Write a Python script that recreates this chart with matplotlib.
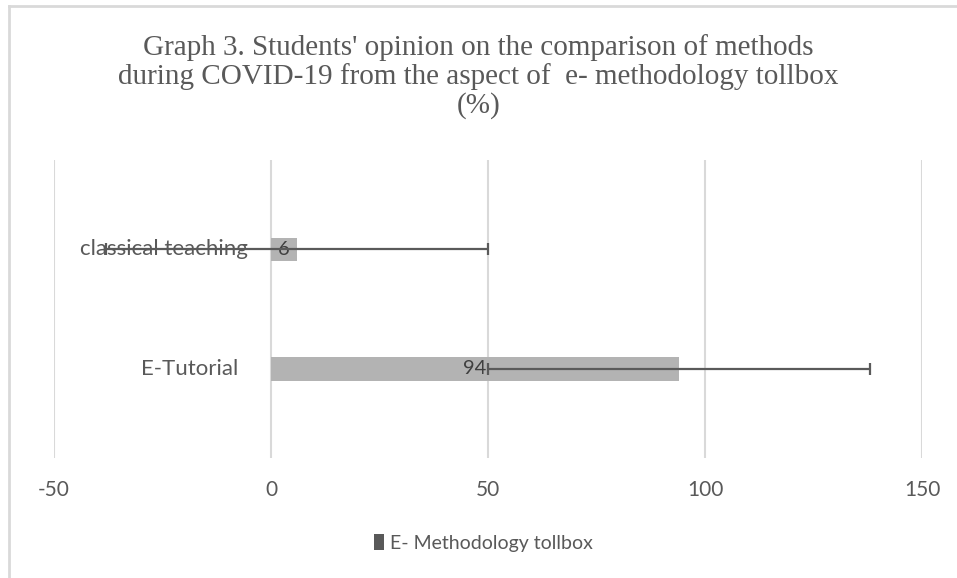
import matplotlib
matplotlib.use("Agg")
import matplotlib.pyplot as plt
from matplotlib.lines import Line2D
from matplotlib.patches import Patch

# data
categories = ["E-Tutorial", "classical teaching"]
values = [94, 6]
errors = [44, 44]
series_name = "E- Methodology tollbox"
xticks = [-50, 0, 50, 100, 150]

TITLE = ("Graph 3. Students' opinion on the comparison of methods\n"
         "during COVID-19 from the aspect of  e- methodology tollbox\n(%)")
INK = "#595959"
BAR = "#b3b3b3"
GRID = "#d9d9d9"
W, H = 957, 578

fig = plt.figure(figsize=(W / 100, H / 100), dpi=100)
ax = fig.add_axes([54 / W, 1 - 458 / H, (922 - 54) / W, (458 - 160) / H])

ypos = list(range(len(categories)))
bars = ax.barh(ypos, values, height=0.2, color=BAR, zorder=2)
ax.errorbar(values, ypos, xerr=errors, fmt="none", ecolor="#5a5a5a",
            elinewidth=1.6, capsize=4.3, capthick=1.6, zorder=5)
ax.bar_label(bars, labels=[str(v) for v in values], label_type="center",
             fontsize=14.5, color="#404040", family="Lato", zorder=4)

ax.set_xlim(-50, 150)
ax.set_ylim(-0.745, 1.749)
ax.set_xticks(xticks)
ax.set_xticklabels([str(t) for t in xticks], family="Lato", fontsize=15, color=INK)
ax.tick_params(axis="x", length=0, pad=16)
ax.set_yticks([])
ax.grid(axis="x", color=GRID, linewidth=1.5, zorder=0)
for s in ax.spines.values():
    s.set_visible(False)

# category labels sit beside the zero line, like the Excel value axis crossing
label_gap = [-33, -23]  # pixels left of the zero line
for y, lab, dx in zip(ypos, categories, label_gap):
    ax.annotate(lab, xy=(0, y), xytext=(dx, 0), textcoords="offset pixels",
                ha="right", va="center", fontsize=16, color=INK, family="Lato", zorder=3)

fig.text(0.5, 1 - 34 / H, TITLE, ha="center", va="top", fontsize=21,
         family="Liberation Serif", color=INK, linespacing=1.1)

fig.legend(handles=[Patch(facecolor="#595959", label=series_name)],
           loc="center", bbox_to_anchor=(0.505, 1 - 543 / H), frameon=False,
           prop={"family": "Lato", "size": 14}, labelcolor=INK,
           handlelength=0.55, handleheight=0.9, handletextpad=0.3)

# chart border (left and top edges visible in the crop)
fig.add_artist(Line2D([9 / W, 9 / W], [0, 1 - 6 / H], transform=fig.transFigure,
                      color=GRID, linewidth=2))
fig.add_artist(Line2D([9 / W, 1], [1 - 6 / H, 1 - 6 / H], transform=fig.transFigure,
                      color=GRID, linewidth=2))

fig.savefig("out.png", dpi=100, facecolor="white")
